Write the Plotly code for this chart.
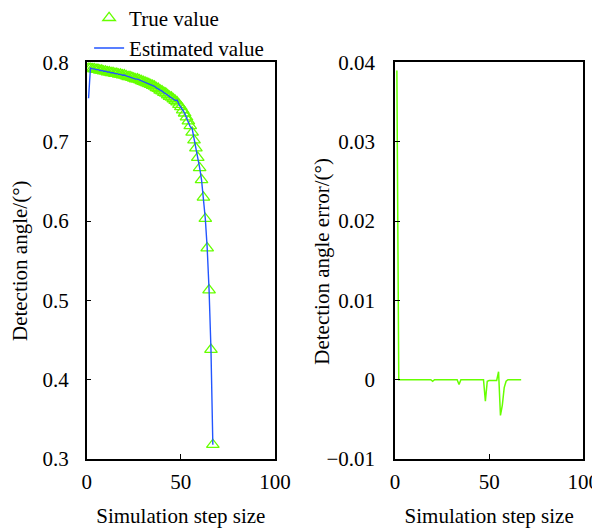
import plotly.graph_objects as go

steps = list(range(1, 68))

true_vals = [
    0.793, 0.793, 0.792, 0.792, 0.791, 0.791, 0.790, 0.790, 0.789, 0.789,
    0.788, 0.788, 0.787, 0.787, 0.786, 0.786, 0.785, 0.785, 0.784, 0.784,
    0.783, 0.782, 0.782, 0.781, 0.780, 0.779, 0.779, 0.778, 0.777, 0.776,
    0.775, 0.774, 0.773, 0.772, 0.771, 0.770, 0.768, 0.767, 0.765, 0.764,
    0.762, 0.761, 0.759, 0.757, 0.756, 0.754, 0.752, 0.750, 0.747, 0.744,
    0.740, 0.736, 0.731, 0.726, 0.720, 0.712, 0.702, 0.692, 0.680, 0.667,
    0.652, 0.630, 0.603, 0.566, 0.513, 0.438, 0.318,
]

est_vals = [
    0.755, 0.793, 0.792, 0.792, 0.791, 0.791, 0.790, 0.790, 0.789, 0.789,
    0.788, 0.788, 0.787, 0.787, 0.786, 0.786, 0.785, 0.785, 0.784, 0.7842,
    0.783, 0.782, 0.782, 0.781, 0.780, 0.779, 0.779, 0.778, 0.777, 0.776,
    0.775, 0.774, 0.773, 0.7726, 0.771, 0.770, 0.768, 0.767, 0.765, 0.764,
    0.762, 0.761, 0.759, 0.757, 0.756, 0.754, 0.752, 0.7527, 0.7472, 0.7441,
    0.7401, 0.7361, 0.7311, 0.7261, 0.719, 0.7165, 0.7052, 0.693, 0.6802, 0.667,
    0.652, 0.630, 0.603, 0.566, 0.513, 0.438, 0.318,
]

err_vals = [
    0.039, 0.0, 0.0, 0.0, 0.0, 0.0, 0.0, 0.0, 0.0, 0.0,
    0.0, 0.0, 0.0, 0.0, 0.0, 0.0, 0.0, 0.0, 0.0, -0.0002,
    0.0, 0.0, 0.0, 0.0, 0.0, 0.0, 0.0, 0.0, 0.0, 0.0,
    0.0, 0.0, 0.0, -0.0006, 0.0, 0.0, 0.0, 0.0, 0.0, 0.0,
    0.0, 0.0, 0.0, 0.0, 0.0, 0.0, 0.0, -0.0027, -0.0002, -0.0001,
    -0.0001, -0.0001, -0.0001, -0.0001, 0.001, -0.0045, -0.0032, -0.0010, -0.0002, 0.0,
    0.0, 0.0, 0.0, 0.0, 0.0, 0.0, 0.0,
]

left_yticks = [0.3, 0.4, 0.5, 0.6, 0.7, 0.8]
right_yticks = [-0.01, 0, 0.01, 0.02, 0.03, 0.04]
right_yticktext = ["\u22120.01", "0", "0.01", "0.02", "0.03", "0.04"]
xticks = [0, 50, 100]

GREEN = "#66ff00"
BLUE = "#2255ff"
FONT = "Liberation Serif"
FS = 21

fig = go.Figure()
fig.add_trace(go.Scatter(
    x=steps, y=true_vals, mode="markers", name="True value",
    marker=dict(symbol="triangle-up-open", size=11, color=GREEN, line=dict(width=1.3, color=GREEN)),
    xaxis="x", yaxis="y",
))
fig.add_trace(go.Scatter(
    x=steps, y=est_vals, mode="lines", name="Estimated value",
    line=dict(color=BLUE, width=1.4),
    xaxis="x", yaxis="y",
))
fig.add_trace(go.Scatter(
    x=steps, y=err_vals, mode="lines", name="error", showlegend=False,
    line=dict(color=GREEN, width=1.5),
    xaxis="x2", yaxis="y2",
))

axis_common = dict(
    showline=True, mirror=True, linecolor="black", linewidth=1.5,
    ticks="inside", ticklen=5, tickcolor="black", tickwidth=1,
    showgrid=False, zeroline=False, automargin=False,
    tickfont=dict(family=FONT, size=FS, color="black"),
)

title_font = dict(family=FONT, size=FS, color="black")
y_dom = [0.1344, 0.8954]

fig.update_layout(
    width=592, height=521,
    margin=dict(l=0, r=0, t=0, b=0, autoexpand=False),
    paper_bgcolor="white", plot_bgcolor="white",
    font=dict(family=FONT, size=FS, color="black"),
    xaxis=dict(domain=[0.1329, 0.4510], range=[0, 100], tickvals=xticks, anchor="y",
               ticklabelstandoff=3,
               title=dict(text="Simulation step size", font=title_font, standoff=15),
               **axis_common),
    yaxis=dict(domain=y_dom, range=[0.3, 0.8], tickvals=left_yticks, anchor="x",
               tickformat=".1f", ticklabelstandoff=12,
               title=dict(text="Detection angle/(°)", font=title_font, standoff=14),
               **axis_common),
    xaxis2=dict(domain=[0.6537, 0.9718], range=[0, 100], tickvals=xticks, anchor="y2",
                ticklabelstandoff=3,
                title=dict(text="Simulation step size", font=title_font, standoff=15),
                **axis_common),
    yaxis2=dict(domain=y_dom, range=[-0.01, 0.04], tickvals=right_yticks,
                ticktext=right_yticktext, anchor="x2", ticklabelstandoff=14,
                **axis_common),
    legend=dict(x=0.137, y=1.02, xanchor="left", yanchor="top",
                font=dict(family=FONT, size=FS, color="black"),
                bgcolor="rgba(0,0,0,0)", tracegroupgap=0, itemwidth=30),
    showlegend=True,
    annotations=[dict(
        text="Detection angle error/(°)", textangle=-90,
        xref="paper", yref="paper", x=0.5304, y=(y_dom[0] + y_dom[1]) / 2,
        xanchor="center", yanchor="middle", showarrow=False,
        font=title_font,
    )],
)

fig.write_html("out.html")
